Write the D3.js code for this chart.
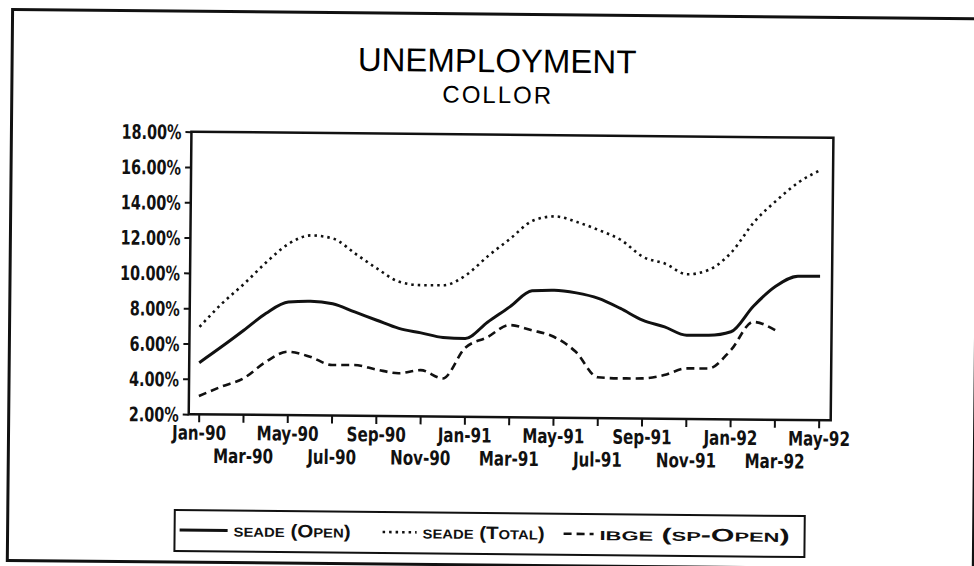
<!DOCTYPE html>
<html>
<head>
<meta charset="utf-8">
<script src="https://cdnjs.cloudflare.com/ajax/libs/d3/7.8.5/d3.min.js"></script>
<style>
  html, body { margin: 0; padding: 0; background: #fff; }
  svg { display: block; }
  .axis text { font-family: "DejaVu Sans Condensed", "DejaVu Sans", sans-serif; font-weight: bold; font-size: 20px; fill: #111; }
  .axis line { stroke: #111; stroke-width: 2; }
  .legend text { font-family: "Liberation Sans", Arial, sans-serif; font-variant: small-caps; font-weight: bold; font-size: 18px; fill: #111; }
</style>
</head>
<body>
<svg id="chart" width="974" height="566"></svg>
<script>
// monthly categories, Jan-90 .. May-92
const months = ["Jan-90","Feb-90","Mar-90","Apr-90","May-90","Jun-90","Jul-90","Aug-90","Sep-90","Oct-90","Nov-90","Dec-90",
  "Jan-91","Feb-91","Mar-91","Apr-91","May-91","Jun-91","Jul-91","Aug-91","Sep-91","Oct-91","Nov-91","Dec-91",
  "Jan-92","Feb-92","Mar-92","Apr-92","May-92"];

// unemployment rates in %
const seadeOpen = [4.92,5.83,6.78,7.76,8.41,8.46,8.33,7.88,7.42,6.97,6.73,6.48,
  6.43,7.37,8.25,9.17,9.22,9.08,8.78,8.22,7.57,7.20,6.74,6.75,
  6.96,8.42,9.56,10.14,10.15];
const seadeTotal = [6.95,8.28,9.42,10.66,11.71,12.19,12.02,11.18,10.34,9.61,9.43,9.44,
  10.01,11.12,12.12,13.14,13.40,13.09,12.64,12.09,11.15,10.78,10.19,10.47,
  11.48,13.19,14.42,15.47,16.18];
// IBGE series stops at Mar-92
const ibgeOpen = [3.03,3.57,4.05,5.00,5.59,5.32,4.86,4.87,4.63,4.43,4.62,4.16,
  5.90,6.52,7.22,6.94,6.58,5.74,4.31,4.26,4.27,4.47,4.86,4.87,
  5.92,7.53,7.07];

const yTicks = [2,4,6,8,10,12,14,16,18];
const xTickLabels = months.filter((d, i) => i % 2 === 0);
const legendNames = ["seade (Open)", "seade (Total)", "ibge (sp-Open)"];

const svg = d3.select("#chart");
// the scanned page sits slightly tilted
const page = svg.append("g").attr("transform", "rotate(0.55,487,283)");

// squeeze text horizontally to get the tall narrow printer glyphs
function squeeze(sel, k) {
  sel.each(function() {
    const w = this.getComputedTextLength();
    d3.select(this).attr("textLength", w * k).attr("lengthAdjust", "spacingAndGlyphs");
  });
}

// outer frame
page.append("rect")
  .attr("x", 10).attr("y", 14).attr("width", 966).attr("height", 551)
  .attr("fill", "none").attr("stroke", "#111").attr("stroke-width", 3);

// titles
page.append("text")
  .attr("x", 495).attr("y", 72).attr("text-anchor", "middle")
  .style("font-family", "'Liberation Sans', Arial, sans-serif").style("font-size", "33px")
  .text("UNEMPLOYMENT");
page.append("text")
  .attr("x", 496).attr("y", 103).attr("text-anchor", "middle")
  .style("font-family", "'Liberation Sans', Arial, sans-serif").style("font-size", "24px")
  .style("letter-spacing", "2px")
  .text("COLLOR");

const plot = {left: 190, right: 832, top: 134.5, bottom: 417};

const x = d3.scalePoint().domain(months).range([200, 820]);
const y = d3.scaleLinear().domain([2, 18]).range([plot.bottom, plot.top]);

// plot frame
page.append("rect")
  .attr("x", plot.left).attr("y", plot.top)
  .attr("width", plot.right - plot.left).attr("height", plot.bottom - plot.top)
  .attr("fill", "none").attr("stroke", "#111").attr("stroke-width", 2.5);

// y axis
const yAxis = page.append("g")
  .attr("class", "axis")
  .attr("transform", `translate(${plot.left},0)`)
  .call(d3.axisLeft(y).tickValues(yTicks).tickSize(6).tickSizeOuter(0)
    .tickFormat(d => d3.format(".2f")(d) + "%"));
yAxis.select(".domain").remove();
yAxis.selectAll("text").attr("x", -10).attr("dy", "0.36em");
squeeze(yAxis.selectAll("text"), 0.8);

// x axis, labels alternate on two rows
const xAxis = page.append("g")
  .attr("class", "axis")
  .attr("transform", `translate(0,${plot.bottom})`)
  .call(d3.axisBottom(x).tickValues(xTickLabels).tickSize(8).tickSizeOuter(0));
xAxis.select(".domain").remove();
xAxis.selectAll("text")
  .attr("dy", 0)
  .attr("y", (d, i) => i % 2 === 0 ? 25.5 : 48.5);
squeeze(xAxis.selectAll("text"), 0.84);

// lines
const line = d3.line()
  .x((d, i) => x(months[i]))
  .y(d => y(d))
  .curve(d3.curveMonotoneX);

const series = [
  {values: seadeOpen, width: 3, dash: null},
  {values: seadeTotal, width: 2.6, dash: "2.5,4"},
  {values: ibgeOpen, width: 2.6, dash: "8,5"}
];

page.append("g").selectAll("path")
  .data(series)
  .join("path")
  .attr("d", d => line(d.values))
  .attr("fill", "none")
  .attr("stroke", "#111")
  .attr("stroke-width", d => d.width)
  .attr("stroke-dasharray", d => d.dash);

// legend
const legend = page.append("g").attr("class", "legend");
legend.append("rect")
  .attr("x", 177).attr("y", 513).attr("width", 630).attr("height", 41)
  .attr("fill", "none").attr("stroke", "#111").attr("stroke-width", 2);

const legendX = [182, 385, 566];
const legendLen = [48, 34, 30];
const legendTextLen = [117, 122, 190];
const items = legend.selectAll("g.item")
  .data(legendNames)
  .join("g")
  .attr("class", "item")
  .attr("transform", (d, i) => `translate(${legendX[i]},533)`);
items.append("line")
  .attr("x1", 0).attr("x2", (d, i) => legendLen[i])
  .attr("stroke", "#111")
  .attr("stroke-width", (d, i) => series[i].width)
  .attr("stroke-dasharray", (d, i) => series[i].dash);
items.append("text")
  .attr("x", (d, i) => legendLen[i] + 6)
  .attr("y", 6)
  .attr("textLength", (d, i) => legendTextLen[i])
  .attr("lengthAdjust", "spacingAndGlyphs")
  .text(d => d);
</script>
</body>
</html>
